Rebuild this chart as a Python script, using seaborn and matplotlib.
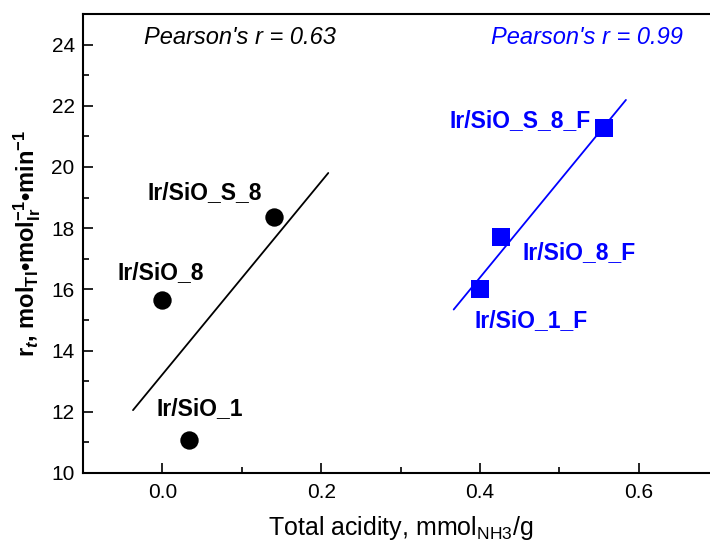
import numpy as np
import pandas as pd
import matplotlib
matplotlib.use("Agg")
import matplotlib.pyplot as plt
import seaborn as sns
from matplotlib.ticker import MultipleLocator

# ---- data ----
samples_a = ["Ir/SiO_8", "Ir/SiO_1", "Ir/SiO_S_8"]
acid_a = [0.0, 0.033, 0.140]
rate_a = [15.65, 11.08, 18.38]

samples_b = ["Ir/SiO_1_F", "Ir/SiO_8_F", "Ir/SiO_S_8_F"]
acid_b = [0.400, 0.427, 0.557]
rate_b = [16.00, 17.70, 21.26]

pearson_a = "Pearson's r = 0.63"
pearson_b = "Pearson's r = 0.99"

fit_range_a = [-0.037, 0.209]
fit_range_b = [0.367, 0.584]

sns.set_theme(style="ticks")
plt.rcParams["font.family"] = ["Liberation Sans", "DejaVu Sans"]
plt.rcParams["mathtext.fontset"] = "custom"
plt.rcParams["mathtext.rm"] = "Liberation Sans"
plt.rcParams["mathtext.it"] = "Liberation Sans:italic"
plt.rcParams["mathtext.bf"] = "Liberation Sans:bold"
plt.rcParams["mathtext.bfit"] = "Liberation Sans:italic:bold"

fig = plt.figure(figsize=(7.1, 5.42), dpi=100)
ax = fig.add_axes([83 / 710, 1 - 473 / 542, (718 - 83) / 710, (473 - 14) / 542])

df_a = pd.DataFrame({"x": acid_a, "y": rate_a, "s": samples_a})
df_b = pd.DataFrame({"x": acid_b, "y": rate_b, "s": samples_b})

# fits
ka, ba = np.polyfit(acid_a, rate_a, 1)
kb, bb = np.polyfit(acid_b, rate_b, 1)
fa = pd.DataFrame({"x": fit_range_a, "y": [ka * v + ba for v in fit_range_a]})
fb = pd.DataFrame({"x": fit_range_b, "y": [kb * v + bb for v in fit_range_b]})
sns.lineplot(data=fa, x="x", y="y", color="black", lw=1.3, ax=ax)
sns.lineplot(data=fb, x="x", y="y", color="#0000ff", lw=1.3, ax=ax)

sns.scatterplot(data=df_a, x="x", y="y", color="black", marker="o", s=175,
                edgecolor="black", linewidth=0, ax=ax, zorder=3)
sns.scatterplot(data=df_b, x="x", y="y", color="#0000ff", marker="s", s=150,
                edgecolor="#0000ff", linewidth=0, ax=ax, zorder=3)

# labels
lab_a = {"Ir/SiO_8": (-0.057, 16.56), "Ir/SiO_1": (-0.008, 12.12), "Ir/SiO_S_8": (-0.019, 19.17)}
lab_b = {"Ir/SiO_1_F": (0.393, 14.99), "Ir/SiO_8_F": (0.454, 17.21), "Ir/SiO_S_8_F": (0.362, 21.52)}
for s, (x, y) in lab_a.items():
    ax.text(x, y, s, fontsize=16.5, fontweight="bold", color="black", ha="left", va="center")
for s, (x, y) in lab_b.items():
    ax.text(x, y, s, fontsize=16.5, fontweight="bold", color="#0000ff", ha="left", va="center")

ax.text(-0.0227, 24.22, pearson_a, fontsize=17, fontstyle="italic", color="black", ha="left", va="center")
ax.text(0.4146, 24.22, pearson_b, fontsize=17, fontstyle="italic", color="#0000ff", ha="left", va="center")

ax.set_ylim(10, 25)
ax.xaxis.set_major_locator(MultipleLocator(0.2))
ax.xaxis.set_minor_locator(MultipleLocator(0.1))
ax.yaxis.set_major_locator(MultipleLocator(2))
ax.yaxis.set_minor_locator(MultipleLocator(1))
ax.set_xticks([0.0, 0.2, 0.4, 0.6])
ax.set_xticklabels(["0.0", "0.2", "0.4", "0.6"])
ax.set_xlim(-0.1, 0.7)
ax.tick_params(which="major", direction="in", length=7, width=1.2, labelsize=15, color="black", labelcolor="black")
ax.tick_params(which="minor", direction="in", length=4, width=1.2, color="black")
ax.tick_params(axis="x", pad=7)
ax.tick_params(axis="y", pad=6)
for sp in ["left", "bottom", "top"]:
    ax.spines[sp].set_linewidth(1.5)
    ax.spines[sp].set_color("black")
ax.spines["right"].set_visible(False)

ax.set_xlabel(r"Total acidity, mmol$_{\mathrm{NH3}}$/g", fontsize=18, color="black", labelpad=9)
ax.set_ylabel(r"r$_{\mathbfit{t}}$, mol$_{\mathbf{TI}}$•mol$^{\mathbf{-1}}_{\mathbf{Ir}}$•min$^{\mathbf{-1}}$",
              fontsize=17, fontweight="bold", color="black", labelpad=6)

fig.savefig("out.png", dpi=100)
